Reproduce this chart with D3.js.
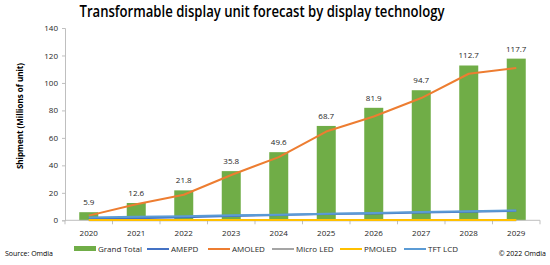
<!DOCTYPE html>
<html>
<head>
<meta charset="utf-8">
<script src="https://cdn.jsdelivr.net/npm/d3@7"></script>
<style>
  body { margin: 0; background: #fff; }
  svg { display: block; font-family: "Open Sans", "Liberation Sans", sans-serif; }
</style>
</head>
<body>
<div id="chart"></div>
<script>
// data
var years = ["2020", "2021", "2022", "2023", "2024", "2025", "2026", "2027", "2028", "2029"];
var grandTotal = [5.9, 12.6, 21.8, 35.8, 49.6, 68.7, 81.9, 94.7, 112.7, 117.7];
var amepd = [1.2, 1.5, 2.2, 3.2, 3.8, 4.5, 5.0, 5.6, 6.3, 6.9];
var amoled = [3.4, 11.7, 18.6, 33.0, 46.0, 64.6, 75.6, 89.0, 106.7, 110.9];
var microLed = [0.05, 0.05, 0.05, 0.05, 0.05, 0.05, 0.05, 0.05, 0.05, 0.05];
var pmoled = [0.3, 0.3, 0.3, 0.3, 0.3, 0.3, 0.3, 0.3, 0.3, 0.3];
var tftLcd = [2.0, 2.6, 3.0, 3.6, 4.1, 4.8, 5.4, 6.0, 6.6, 7.2];
var yTicks = [0, 20, 40, 60, 80, 100, 120, 140];

var lineSeries = [
  { name: "AMEPD", values: amepd, color: "#4472C4" },
  { name: "AMOLED", values: amoled, color: "#ED7D31" },
  { name: "Micro LED", values: microLed, color: "#A5A5A5" },
  { name: "PMOLED", values: pmoled, color: "#FFC000" },
  { name: "TFT LCD", values: tftLcd, color: "#5B9BD5" }
];

var svgWidth = 550;
var svgHeight = 265;
var margin = { top: 28, right: 10, bottom: 45, left: 65 };
var width = 540 - margin.left;
var height = 220.3 - margin.top;

var svg = d3.select("#chart").append("svg")
  .attr("width", svgWidth)
  .attr("height", svgHeight);

// title
svg.append("text")
  .attr("x", 262)
  .attr("y", 17)
  .attr("text-anchor", "middle")
  .attr("font-size", "16px")
  .attr("font-weight", 600)
  .attr("textLength", 365)
  .attr("lengthAdjust", "spacingAndGlyphs")
  .attr("fill", "#000")
  .text("Transformable display unit forecast by display technology");

var chartGroup = svg.append("g")
  .attr("transform", `translate(${margin.left}, ${margin.top})`);

var xScale = d3.scaleBand()
  .domain(years)
  .range([0, width])
  .paddingInner(0.6)
  .paddingOuter(0.3);

var yScale = d3.scaleLinear()
  .domain([0, 140])
  .range([height, 0]);

// y axis
var yAxis = chartGroup.append("g")
  .call(d3.axisLeft(yScale).tickValues(yTicks).tickSize(3).tickPadding(4));
yAxis.selectAll("path, line").attr("stroke", "#bfbfbf");
yAxis.selectAll("text").attr("font-size", "8px").attr("fill", "#262626")
  .attr("font-family", "Open Sans, Liberation Sans, sans-serif");

// bars
chartGroup.selectAll(".bar")
  .data(grandTotal)
  .enter()
  .append("rect")
  .attr("x", (d, i) => xScale(years[i]))
  .attr("y", d => yScale(d))
  .attr("width", xScale.bandwidth())
  .attr("height", d => height - yScale(d))
  .attr("fill", "#70AD47");

// bar labels
chartGroup.selectAll(".barLabel")
  .data(grandTotal)
  .enter()
  .append("text")
  .attr("x", (d, i) => xScale(years[i]) + xScale.bandwidth() / 2)
  .attr("y", d => yScale(d) - 7)
  .attr("text-anchor", "middle")
  .attr("font-size", "8px")
  .attr("fill", "#262626")
  .text(d => d.toFixed(1));

// x axis with ticks between categories
var xAxisG = chartGroup.append("g")
  .attr("transform", `translate(0, ${height})`);
xAxisG.append("line")
  .attr("x1", 0).attr("x2", width)
  .attr("stroke", "#bfbfbf");
xAxisG.selectAll(".xtick")
  .data(d3.range(years.length + 1))
  .enter()
  .append("line")
  .attr("x1", i => i * width / years.length)
  .attr("x2", i => i * width / years.length)
  .attr("y1", 0).attr("y2", 4)
  .attr("stroke", "#bfbfbf");
xAxisG.selectAll(".xlabel")
  .data(years)
  .enter()
  .append("text")
  .attr("x", d => xScale(d) + xScale.bandwidth() / 2)
  .attr("y", 16)
  .attr("text-anchor", "middle")
  .attr("font-size", "8px")
  .attr("fill", "#262626")
  .text(d => d);

// lines
var line = d3.line()
  .x((d, i) => xScale(years[i]) + xScale.bandwidth() / 2)
  .y(d => yScale(d));

chartGroup.selectAll(".series")
  .data(lineSeries)
  .enter()
  .append("path")
  .attr("d", d => line(d.values))
  .attr("fill", "none")
  .attr("stroke", d => d.color)
  .attr("stroke-width", 2)
  .attr("stroke-linejoin", "round");

// y label
svg.append("text")
  .attr("transform", "translate(23, 116) rotate(-90)")
  .attr("text-anchor", "middle")
  .attr("font-size", "8px")
  .attr("font-weight", "bold")
  .attr("fill", "#000")
  .text("Shipment (Millions of unit)");

// legend
var legendY = 249;
var legend = svg.append("g");
legend.append("rect")
  .attr("x", 74).attr("y", legendY - 3)
  .attr("width", 22).attr("height", 5)
  .attr("fill", "#70AD47");
legend.append("text")
  .attr("x", 98).attr("y", legendY + 3)
  .attr("font-size", "8px").attr("fill", "#262626")
  .text("Grand Total");

var legendX = [147, 208, 272, 340, 404];
lineSeries.forEach(function(s, i) {
  legend.append("line")
    .attr("x1", legendX[i]).attr("x2", legendX[i] + 22)
    .attr("y1", legendY).attr("y2", legendY)
    .attr("stroke", s.color).attr("stroke-width", 2);
  legend.append("text")
    .attr("x", legendX[i] + 24).attr("y", legendY + 3)
    .attr("font-size", "8px").attr("fill", "#262626")
    .text(s.name);
});

// footnotes
svg.append("text")
  .attr("x", 5).attr("y", 256)
  .attr("font-size", "7px").attr("fill", "#000")
  .text("Source: Omdia");
svg.append("text")
  .attr("x", 546).attr("y", 256)
  .attr("text-anchor", "end")
  .attr("font-size", "7px").attr("fill", "#000")
  .text("\u00a9 2022 Omdia");
</script>
</body>
</html>
